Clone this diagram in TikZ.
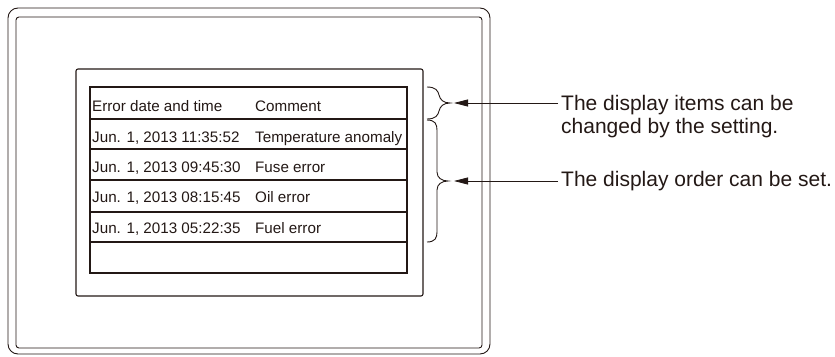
\documentclass[tikz,border=0pt]{standalone}
\usepackage{fontspec}
\setmainfont{Liberation Sans}
\usetikzlibrary{arrows.meta}
\definecolor{ink}{RGB}{35,24,21}
\begin{document}
\begin{tikzpicture}[x=1pt,y=-1pt,
  frame/.style={draw=ink, line width=0.9pt},
  grid/.style={draw=ink, line width=1.1pt},
  cell/.style={font=\fontsize{15.2}{18}\selectfont, text=ink, anchor=base west, inner sep=0pt},
  note/.style={font=\fontsize{21}{23}\selectfont, text=ink, align=left, anchor=base west, inner xsep=3pt, inner ysep=0pt},
  curly/.style={draw=ink, line width=0.9pt},
  pointer/.style={draw=ink, line width=0.8pt, -{Triangle[length=14pt,width=7pt]}}]
\useasboundingbox (0,0) rectangle (835,356);
% panel frames
\draw[frame, rounded corners=10pt] (8,8) rectangle (490,354);
\draw[frame, rounded corners=3pt] (16,17) rectangle (482,348);
\draw[grid, rounded corners=2pt] (76,69) rectangle (423,296);
% table
\draw[grid] (90,87) rectangle (407,273);
\foreach \yy in {119,149,180,212,242} \draw[grid] (90,\yy) -- (407,\yy);
% texts
\node[cell] (h1) at (92,111) {Error date and time};
\node[cell] (h2) at (255,111) {Comment};
\node[cell] (d1) at (92,142.5) {Jun. 1, 2013 11:35:52};
\node[cell] (c1) at (255,142.5) {Temperature anomaly};
\node[cell] (d2) at (92,172.7) {Jun. 1, 2013 09:45:30};
\node[cell] (c2) at (255,172.7) {Fuse error};
\node[cell] (d3) at (92,202.7) {Jun. 1, 2013 08:15:45};
\node[cell] (c3) at (255,202.7) {Oil error};
\node[cell] (d4) at (92,233.3) {Jun. 1, 2013 05:22:35};
\node[cell] (c4) at (255,233.3) {Fuel error};
% braces
\draw[curly] (427,87) .. controls (436,87) and (438,91) .. (439,95)
  .. controls (440,100) and (444,103) .. (450,103)
  .. controls (444,103) and (440,106) .. (439,111)
  .. controls (438,115) and (436,119) .. (427,119);
\draw[curly] (427,120) .. controls (435,120) and (437,124) .. (437,130) -- (437,172)
  .. controls (437,178) and (442,181) .. (448,181)
  .. controls (442,181) and (437,184) .. (437,190) -- (437,232)
  .. controls (437,238) and (435,242) .. (427,242);
\coordinate (b1) at (454,103);
\coordinate (b2) at (454,181);
% notes (base anchor of a multi-line node is the last line's baseline)
\node[note] (n1) at (558,133) {The display items can be\\changed by the setting.};
\node[note] (n2) at (558,186) {The display order can be set.};
\draw[pointer] (b1 -| n1.west) -- (b1);
\draw[pointer] (b2 -| n2.west) -- (b2);
\end{tikzpicture}
\end{document}
